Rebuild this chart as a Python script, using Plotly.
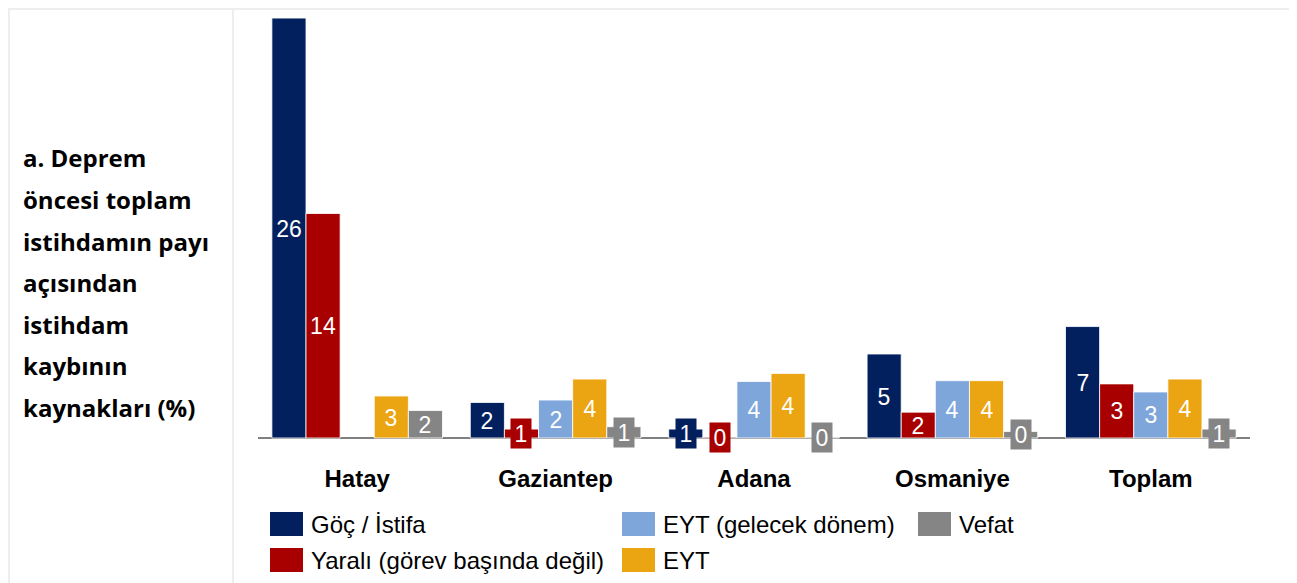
import plotly.graph_objects as go

# ---------------- data ----------------
categories = ["Hatay", "Gaziantep", "Adana", "Osmaniye", "Toplam"]
series_names = ["Göç / İstifa", "Yaralı (görev başında değil)", "EYT (gelecek dönem)", "EYT", "Vefat"]
goc = [26.0, 2.2, 0.55, 5.2, 6.9]
yarali = [13.9, 0.55, 0.05, 1.6, 3.35]
eyt_gelecek = [None, 2.35, 3.5, 3.55, 2.85]
eyt = [2.6, 3.65, 4.0, 3.55, 3.65]
vefat = [1.7, 0.7, 0.05, 0.4, 0.55]
side_title = ["a. Deprem", "öncesi toplam", "istihdamın payı", "açısından",
              "istihdam", "kaybının", "kaynakları (%)"]

# ---------------- style ----------------
colors = ["#03205E", "#A80000", "#7EA6DB", "#EBA512", "#858585"]
series = [goc, yarali, eyt_gelecek, eyt, vefat]

OFF = 8  # page body margin
W, H = 1297 - OFF, 583 - OFF
# plot area in screen pixels: x 258..1250, y 10..462
ML, MR, MT, MB = 258 - OFF, 1297 - 1250, 10 - OFF, 583 - 462
PW, PH = W - ML - MR, H - MT - MB
BARGAP = 0.14
YMIN, YMAX = -1.486, 26.5
PX_PER_UNIT = PH / (YMAX - YMIN)


def px_x(px):
    return (px - OFF - ML) / PW


def px_y(py):
    return (H - MB - (py - OFF)) / PH


fig = go.Figure()
for name, vals, col in zip(series_names, series, colors):
    fig.add_trace(go.Bar(
        x=categories, y=vals, name=name,
        marker=dict(color=col, line=dict(color="rgba(255,255,255,0.8)", width=1)),
        showlegend=False, hoverinfo="x+y+name",
    ))

annotations = []
n = len(series)
bw = (1 - BARGAP) / n
for j, (vals, col) in enumerate(zip(series, colors)):
    off = -(1 - BARGAP) / 2 + (j + 0.5) * bw
    for i, v in enumerate(vals):
        if v is None:
            continue
        txt = f"{v:.0f}"
        small = v * PX_PER_UNIT < 22
        annotations.append(dict(
            x=i + off, y=v / 2, xref="x", yref="y", text=txt, showarrow=False,
            font=dict(family="Liberation Sans, Arial", size=23, color="white"),
            bgcolor=col if small else "rgba(0,0,0,0)", borderpad=3,
            width=14 if len(txt) == 1 else 26, height=23,
            xanchor="center", yanchor="middle",
        ))

# side title
for k, line in enumerate(side_title):
    annotations.append(dict(
        x=px_x(21), y=px_y(158 + 41.5 * k), xref="paper", yref="paper",
        text=line, showarrow=False, xanchor="left", yanchor="middle",
        font=dict(family="Open Sans", size=24, color="#000000", weight="bold"),
    ))

# custom legend (columns x, rows y in screen pixels)
legend_pos = [(270, 512), (270, 548), (622, 512), (622, 548), (918, 512)]
shapes = []
for (lx, ly), name, col in zip(legend_pos, series_names, colors):
    shapes.append(dict(type="rect", xref="paper", yref="paper",
                       x0=px_x(lx), x1=px_x(lx + 33), y0=px_y(ly), y1=px_y(ly + 24),
                       fillcolor=col, line=dict(width=0)))
    annotations.append(dict(
        x=px_x(lx + 39), y=px_y(ly + 12), xref="paper", yref="paper",
        text=name, showarrow=False, xanchor="left", yanchor="middle",
        font=dict(family="Liberation Sans, Arial", size=24, color="#000000"),
    ))

# frame lines
frame_col = "#EEEEEE"
shapes += [
    dict(type="line", xref="paper", yref="paper", x0=px_x(OFF), x1=px_x(1297), y0=px_y(9), y1=px_y(9),
         line=dict(color=frame_col, width=2)),
    dict(type="line", xref="paper", yref="paper", x0=px_x(9), x1=px_x(9), y0=px_y(9), y1=px_y(583),
         line=dict(color=frame_col, width=2)),
    dict(type="line", xref="paper", yref="paper", x0=px_x(233), x1=px_x(233), y0=px_y(9), y1=px_y(583),
         line=dict(color=frame_col, width=2)),
]

fig.update_layout(
    width=W, height=H,
    margin=dict(l=ML, r=MR, t=MT, b=MB, pad=0),
    paper_bgcolor="white", plot_bgcolor="white",
    barmode="group", bargap=BARGAP, bargroupgap=0,
    showlegend=False,
    annotations=annotations, shapes=shapes,
    xaxis=dict(type="category", showgrid=False, showline=False, ticks="",
               tickfont=dict(family="Liberation Sans, Arial", size=24, color="#000000", weight="bold"),
               range=[-0.5, len(categories) - 0.5], fixedrange=True),
    yaxis=dict(range=[YMIN, YMAX], showgrid=False, showticklabels=False, ticks="",
               zeroline=True, zerolinecolor="#808080", zerolinewidth=1.5, fixedrange=True),
)

fig.write_html("out.html")
